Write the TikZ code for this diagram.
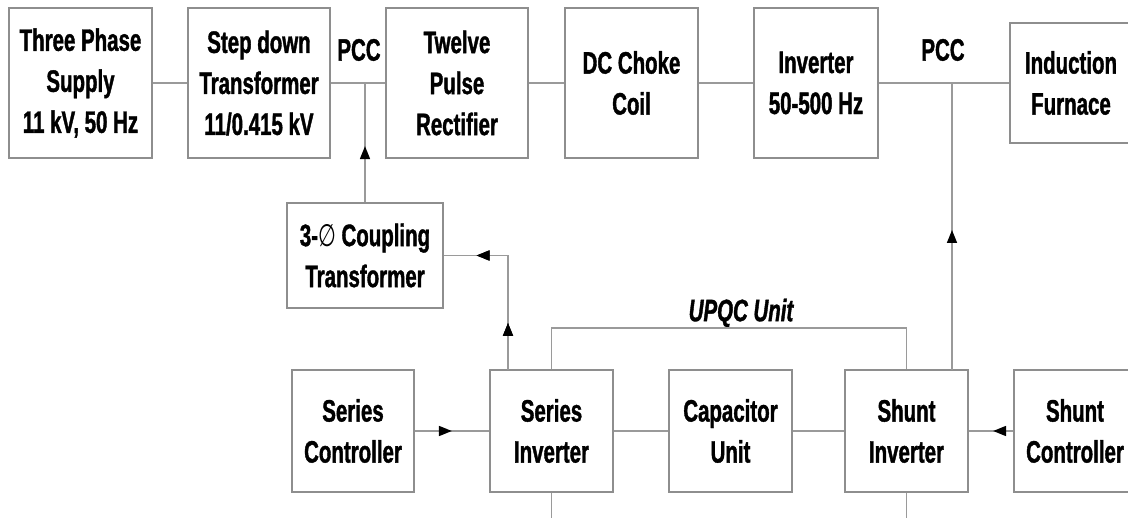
\documentclass[tikz,border=0pt]{standalone}
\usepackage{fontspec}
\setmainfont{Liberation Sans}[FakeStretch=0.66, BoldFeatures={FakeBold=1.2}, BoldItalicFeatures={FakeBold=1.2}]
\newfontfamily\symfont{DejaVu Sans}[FakeStretch=0.66]
\usetikzlibrary{arrows.meta,decorations.markings}
\definecolor{boxgray}{HTML}{8E8E8E}
\definecolor{linegray}{HTML}{9A9A9A}
\tikzset{
  blk/.style={draw=boxgray, line width=1.8pt, rectangle, inner sep=0pt, align=center,
    font=\fontsize{31}{41}\selectfont\bfseries, text=black},
  lbl/.style={inner sep=0pt, font=\fontsize{31}{41}\selectfont\bfseries, text=black},
  conn/.style={draw=linegray, line width=1.6pt},
  arrowat/.style={postaction={decorate}, decoration={markings,
    mark=at position #1 with {\arrow[black]{Triangle[length=13pt,width=10pt]}}}}
}
\begin{document}
\begin{tikzpicture}[x=1pt,y=-1pt]
\fill[white] (0,0) rectangle (1128,518);
\useasboundingbox (0,0) rectangle (1128,518);
% top row
\node[blk, minimum width=143pt, minimum height=150pt] (sup) at (80.5,83) {Three Phase\\Supply\\11 kV, 50 Hz};
\node[blk, minimum width=142pt, minimum height=150pt] (sdt) at (259,83) {Step down\\Transformer\\11/0.415 kV};
\node[blk, minimum width=142pt, minimum height=150pt] (tpr) at (457,83) {Twelve\\Pulse\\Rectifier};
\node[blk, minimum width=133pt, minimum height=150pt] (dcc) at (631.5,83) {DC Choke\\Coil};
\node[blk, minimum width=124pt, minimum height=150pt] (inv) at (816,83) {Inverter\\50-500 Hz};
\node[blk, minimum width=122pt, minimum height=120pt] (ind) at (1071,83) {Induction\\Furnace};
\node[lbl] (pcc1) at (359,50) {PCC};
\node[lbl] (pcc2) at (943,50) {PCC};
% coupling transformer
\node[blk, minimum width=156pt, minimum height=105pt] (cpl) at (365,255.5) {3-{\mdseries\symfont ∅} Coupling\\Transformer};
% bottom row
\node[blk, minimum width=122pt, minimum height=122pt] (sc) at (353,431) {Series\\Controller};
\node[blk, minimum width=123pt, minimum height=122pt] (si) at (551.5,431) {Series\\Inverter};
\node[blk, minimum width=123pt, minimum height=122pt] (cap) at (730.5,431) {Capacitor\\Unit};
\node[blk, minimum width=123pt, minimum height=122pt] (shi) at (906.5,431) {Shunt\\Inverter};
\node[blk, minimum width=122pt, minimum height=122pt] (shc) at (1075,431) {Shunt\\Controller};
\node[lbl, font=\fontsize{31}{41}\selectfont\bfseries\itshape] (upqc) at (741,313) {UPQC Unit};
% coordinates
\coordinate (j1) at (365,83);
\coordinate (j2) at (952,83);
\coordinate (sitap) at (508,370);
\coordinate (shtap) at (952,370);
\coordinate (siend) at (551.5,518);
\coordinate (shend) at (906.5,518);
% main line
\draw[conn] (sup.east) -- (sdt.west);
\draw[conn] (sdt.east) -- (tpr.west);
\draw[conn] (tpr.east) -- (dcc.west);
\draw[conn] (dcc.east) -- (inv.west);
\draw[conn] (inv.east) -- (ind.west);
% injections
\draw[conn, arrowat=56pt] (cpl.north) -- (j1);
\draw[conn, arrowat=47pt, arrowat=146pt] (sitap) |- (cpl.east);
\draw[conn, arrowat=140pt] (shtap) -- (j2);
% bottom connections
\draw[conn, arrowat=37pt] (sc.east) -- (si.west);
\draw[conn] (si.east) -- (cap.west);
\draw[conn] (cap.east) -- (shi.west);
\draw[conn, arrowat=20pt] (shc.west) -- (shi.east);
% UPQC bracket
\draw[conn] (si.north) -- ++(0,-41) -| (shi.north);
\draw[conn] (si.south) -- (siend);
\draw[conn] (shi.south) -- (shend);
\end{tikzpicture}
\end{document}
